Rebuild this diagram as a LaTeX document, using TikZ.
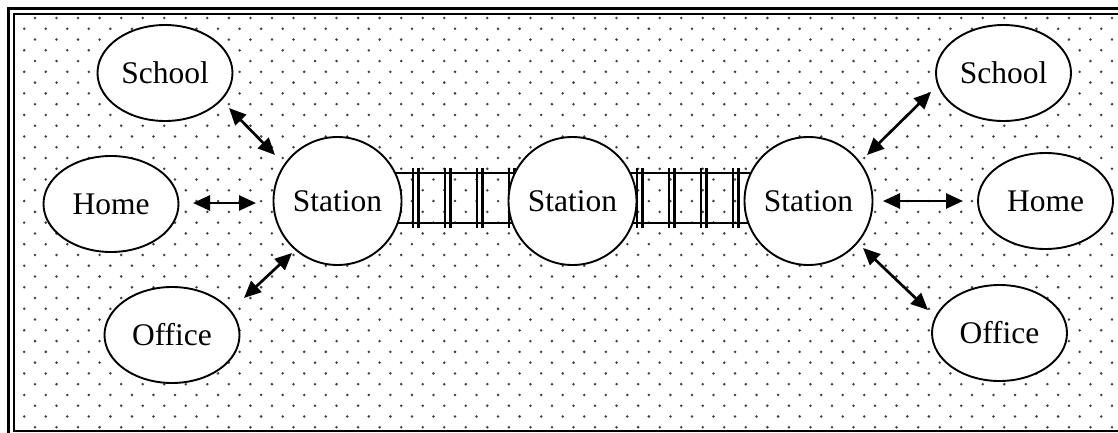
\documentclass[tikz,border=0pt]{standalone}
\usepackage{fontspec}
\setmainfont{Liberation Serif}
\usetikzlibrary{shapes.geometric,arrows.meta,calc}
\begin{document}
\begin{tikzpicture}[x=1pt,y=-1pt,
  place/.style={ellipse,draw,line width=1.9pt,fill=white,minimum width=135pt,minimum height=96pt,inner sep=0pt,font=\fontsize{31.5}{36}\selectfont},
  stationnode/.style={circle,draw,line width=1.9pt,fill=white,minimum size=128pt,inner sep=0pt,font=\fontsize{31.5}{36}\selectfont},
  link/.style={line width=2.7pt,{Triangle[length=17pt,width=15pt]}-{Triangle[length=17pt,width=15pt]}},
  rail/.style={line width=1.7pt},
  tie/.style={line width=2.5pt},
  dot/.style={fill=black!75}]
\useasboundingbox (0,0) rectangle (1118,433);
\clip (0,0) rectangle (1118,433);
\fill[white] (0,0) rectangle (1118,433);
% dotted background
\foreach \i in {0,...,38}{
  \pgfmathsetmacro{\yy}{18+\i*10.77}
  \pgfmathsetmacro{\xo}{mod(\i,2)==0 ? 35 : 24.2}
  \foreach \j in {0,...,51}{
    \fill[dot] ({\xo+\j*21.54},\yy) circle (1.4);
  }
}
% border
\draw[line width=2.6pt] (8.5,8.5) rectangle (1135,445);
\draw[line width=2pt] (14,14) rectangle (1128,430.5);
% station centres
\coordinate (c1) at (337.5,201);
\coordinate (c2) at (572.5,201);
\coordinate (c3) at (808.5,201);
% rails
\draw[rail] ($(c1)+(0,-28)$) -- ($(c2)+(0,-28)$);
\draw[rail] ($(c1)+(0,22)$) -- ($(c2)+(0,22)$);
\draw[rail] ($(c2)+(0,-28)$) -- ($(c3)+(0,-28)$);
\draw[rail] ($(c2)+(0,22)$) -- ($(c3)+(0,22)$);
% ties
\foreach \x in {413,418.5,445,450.5,477,482.5,509,514.5,637,642.5,669,674.5,701,706.5,733,738.5}{
  \draw[tie] (\x,168) -- (\x,228);
}
% nodes
\node[stationnode] (st1) at (c1) {Station};
\node[stationnode] (st2) at (c2) {Station};
\node[stationnode] (st3) at (c3) {Station};
\node[place] (school1) at (165,73) {School};
\node[place] (home1) at (111,204) {Home};
\node[place] (office1) at (172,335) {Office};
\node[place] (school2) at (1003.5,73) {School};
\node[place] (home2) at (1045.5,201) {Home};
\node[place] (office2) at (999.5,333) {Office};
% connector ends
\coordinate (a1s) at (229,108); \coordinate (a1e) at (275,155);
\coordinate (a2s) at (193,203); \coordinate (a2e) at (256,203);
\coordinate (a3s) at (292,253); \coordinate (a3e) at (244,298);
\coordinate (b1s) at (931,92);  \coordinate (b1e) at (867,155);
\coordinate (b2s) at (883,201); \coordinate (b2e) at (963,201);
\coordinate (b3s) at (863,248); \coordinate (b3e) at (928,310);
\draw[link] (a1s) -- (a1e);
\draw[link] (a2s) -- (a2e);
\draw[link] (a3s) -- (a3e);
\draw[link] (b1s) -- (b1e);
\draw[link] (b2s) -- (b2e);
\draw[link] (b3s) -- (b3e);
\end{tikzpicture}
\end{document}
